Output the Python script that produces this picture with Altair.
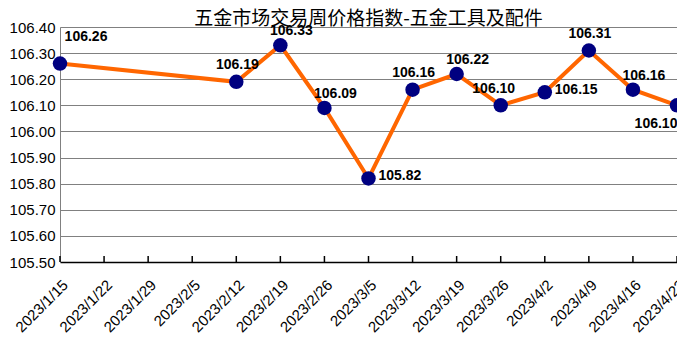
import altair as alt
import pandas as pd

weeks = ["2023/1/15", "2023/1/22", "2023/1/29", "2023/2/5", "2023/2/12", "2023/2/19",
         "2023/2/26", "2023/3/5", "2023/3/12", "2023/3/19", "2023/3/26", "2023/4/2",
         "2023/4/9", "2023/4/16", "2023/4/23"]
dates = ["2023/1/15", "2023/2/12", "2023/2/19", "2023/2/26", "2023/3/5", "2023/3/12",
         "2023/3/19", "2023/3/26", "2023/4/2", "2023/4/9", "2023/4/16", "2023/4/23"]
values = [106.26, 106.19, 106.33, 106.09, 105.82, 106.16, 106.22, 106.10, 106.15, 106.31, 106.16, 106.10]
label_pos = ["far", "t", "tr", "tr", "r", "t", "tr", "tl", "r", "t", "tr", "b"]
y_ticks = [105.5, 105.6, 105.7, 105.8, 105.9, 106.0, 106.1, 106.2, 106.3, 106.4]
title_text = "五金市场交易周价格指数-五金工具及配件"

W, H = 617, 235

df = pd.DataFrame({"date": dates, "value": values, "pos": label_pos})
wk = pd.DataFrame({"date": weeks})

xscale = alt.Scale(type="point", domain=weeks, padding=0)
xaxis = alt.Axis(title=None, labelAngle=-45, labelAlign="right", labelBaseline="top",
                 labelFont="Liberation Sans", labelFontSize=15, labelColor="black",
                 labelPadding=15, ticks=False, domainColor="black", domainWidth=1.5,
                 grid=False, labelOverlap=False)
x = alt.X("date:O", scale=xscale, sort=weeks, axis=xaxis)
y = alt.Y("value:Q", scale=alt.Scale(domain=[105.5, 106.4], nice=False, zero=False),
          axis=alt.Axis(title=None, values=y_ticks, format=".2f", grid=True, gridColor="#808080",
                        gridWidth=1, ticks=False, domainColor="#808080", labelFont="Liberation Sans",
                        labelFontSize=15, labelColor="black", labelPadding=5))

base = alt.Chart(df)

line = base.mark_line(color="#FF6600", strokeWidth=4).encode(x=x, y=y)
pts = base.mark_circle(color="#000080", size=210, opacity=1).encode(x=x, y=y)
tickmarks = alt.Chart(wk).mark_rule(color="black", strokeWidth=1.5).encode(
    x=x, y=alt.value(H), y2=alt.value(H - 6))

styles = {
    "far": dict(dx=26, dy=-27, align="center"),
    "t": dict(dx=1, dy=-17, align="center"),
    "tr": dict(dx=11, dy=-14, align="center"),
    "tl": dict(dx=-7, dy=-16, align="center"),
    "r": dict(dx=10, dy=-2, align="left"),
    "b": dict(dx=-21, dy=19, align="center"),
}
labels = []
for k, s in styles.items():
    labels.append(
        base.transform_filter(alt.datum.pos == k).mark_text(
            font="Liberation Sans", fontSize=14, fontWeight="bold", color="black",
            baseline="middle", **s
        ).encode(x=x, y=y, text=alt.Text("value:Q", format=".2f"))
    )

chart = alt.layer(tickmarks, line, pts, *labels).properties(
    width=W, height=H,
    title=alt.TitleParams(title_text, font="Noto Sans CJK SC", fontSize=19, fontWeight="normal",
                          color="black", anchor="middle", offset=-9),
    autosize=alt.AutoSizeParams(type="none"),
    padding={"left": 52, "top": 19, "right": 0, "bottom": 80},
).configure_view(stroke=None).configure(background="white")

chart.save("out.html", embed_options={"renderer": "svg", "actions": False})
